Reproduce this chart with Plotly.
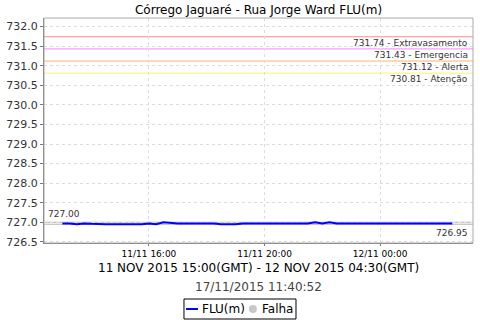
import plotly.graph_objects as go
import pandas as pd

times = pd.date_range("2015-11-11 13:00", "2015-11-12 02:30", freq="15min")
flu = [726.97, 726.97, 726.95, 726.97, 726.96, 726.95, 726.95, 726.95, 726.95, 726.95,
       726.95, 726.95, 726.97, 726.95, 727.00, 726.98, 726.97, 726.97, 726.97, 726.97,
       726.97, 726.97, 726.95, 726.95, 726.95, 726.97, 726.97, 726.97, 726.97, 726.97,
       726.97, 726.97, 726.97, 726.97, 726.97, 727.00, 726.97, 727.00, 726.97, 726.97,
       726.97, 726.97, 726.97, 726.97, 726.97, 726.97, 726.97, 726.97, 726.97, 726.97,
       726.97, 726.97, 726.97, 726.97, 726.97]

thr_values = [731.74, 731.43, 731.12, 730.81]
thr_names = ["Extravasamento", "Emergencia", "Alerta", "Atenção"]
thr_colors = ["#ff8c8c", "#ff80ff", "#ffb36b", "#ffee70"]

max_val = 727.00
min_val = 726.95

title = "Córrego Jaguaré - Rua Jorge Ward FLU(m)"
period = "11 NOV 2015 15:00(GMT) - 12 NOV 2015 04:30(GMT)"
stamp = "17/11/2015 11:40:52"
legend_names = ["FLU(m)", "Falha"]

FONT = "DejaVu Sans"

fig = go.Figure()
fig.add_trace(go.Scatter(x=times, y=flu, mode="lines", name=legend_names[0],
                         line=dict(color="#0000ff", width=2), showlegend=False))

for v, n, c in zip(thr_values, thr_names, thr_colors):
    fig.add_hline(y=v, line=dict(color=c, width=1), layer="below")
    fig.add_annotation(x=1, xref="paper", y=v, yref="y", xanchor="right", yanchor="top",
                       text=f"{v:.2f} - {n}", showarrow=False, xshift=-3, yshift=1,
                       font=dict(family=FONT, size=9, color="#333333"))

for v in [max_val, min_val]:
    fig.add_hline(y=v, line=dict(color="#b4b4b4", width=1), layer="below")
fig.add_annotation(x=0, xref="paper", y=max_val, yref="y", xanchor="left", yanchor="bottom",
                   text=f"{max_val:.2f}", showarrow=False, xshift=2, yshift=1,
                   font=dict(family=FONT, size=9, color="#333333"))
fig.add_annotation(x=1, xref="paper", y=min_val, yref="y", xanchor="right", yanchor="top",
                   text=f"{min_val:.2f}", showarrow=False, xshift=-3, yshift=-2,
                   font=dict(family=FONT, size=9, color="#333333"))

fig.add_annotation(x=0.5, xref="paper", y=-0.111, yref="paper", xanchor="center", yanchor="middle",
                   text=period, showarrow=False, font=dict(family=FONT, size=12, color="#000000"))
fig.add_annotation(x=0.5, xref="paper", y=-0.196, yref="paper", xanchor="center", yanchor="middle",
                   text=stamp, showarrow=False, font=dict(family=FONT, size=12, color="#444444"))

# plot border
fig.add_shape(type="rect", xref="paper", yref="paper", x0=0, x1=1, y0=0, y1=1,
              line=dict(color="#aaaaaa", width=1), layer="above")

# manual legend (keeps plot area fixed)
fig.add_shape(type="rect", xref="paper", yref="paper", x0=0.3263, x1=0.5874, y0=-0.3378, y1=-0.2489,
              line=dict(color="#000000", width=1), fillcolor="white")
fig.add_shape(type="line", xref="paper", yref="paper", x0=0.331, x1=0.359, y0=-0.2933, y1=-0.2933,
              line=dict(color="#0000ff", width=2))
fig.add_annotation(x=0.3636, xref="paper", y=-0.2933, yref="paper", xanchor="left", yanchor="middle",
                   text=legend_names[0], showarrow=False, font=dict(family=FONT, size=12, color="#000000"))
fig.add_shape(type="circle", xref="paper", yref="paper", x0=0.4777, x1=0.4963, y0=-0.3111, y1=-0.2755,
              line=dict(color="#c8c8c8", width=0), fillcolor="#c8c8c8")
fig.add_annotation(x=0.5035, xref="paper", y=-0.2933, yref="paper", xanchor="left", yanchor="middle",
                   text=legend_names[1], showarrow=False, font=dict(family=FONT, size=12, color="#000000"))

fig.update_layout(
    width=480, height=320,
    margin=dict(l=44, r=7, t=18, b=77),
    paper_bgcolor="white", plot_bgcolor="white",
    title=dict(text=title, x=0.5386, xanchor="center", y=0.968, yanchor="middle",
               font=dict(family=FONT, size=12, color="#000000")),
    font=dict(family=FONT, size=11, color="#333333"),
    showlegend=False,
)
fig.update_xaxes(range=["2015-11-11 12:22", "2015-11-12 03:13"],
                 tickvals=["2015-11-11 16:00", "2015-11-11 20:00", "2015-11-12 00:00"],
                 ticktext=["11/11 16:00", "11/11 20:00", "12/11 00:00"],
                 tickfont=dict(family=FONT, size=9, color="#000000"),
                 showgrid=True, gridcolor="#dddddd", griddash="dot", gridwidth=1,
                 showline=True, linecolor="#777777", ticks="outside", ticklen=2, tickcolor="#777777",
                 zeroline=False)
fig.update_yaxes(range=[726.47, 732.22], dtick=0.5, tick0=726.5, tickformat=".1f",
                 tickfont=dict(family=FONT, size=11, color="#333333"),
                 showgrid=True, gridcolor="#dddddd", griddash="dot", gridwidth=1,
                 showline=True, linecolor="#777777", ticks="outside", ticklen=3, tickcolor="#777777",
                 zeroline=False)

fig.write_html("out.html")
